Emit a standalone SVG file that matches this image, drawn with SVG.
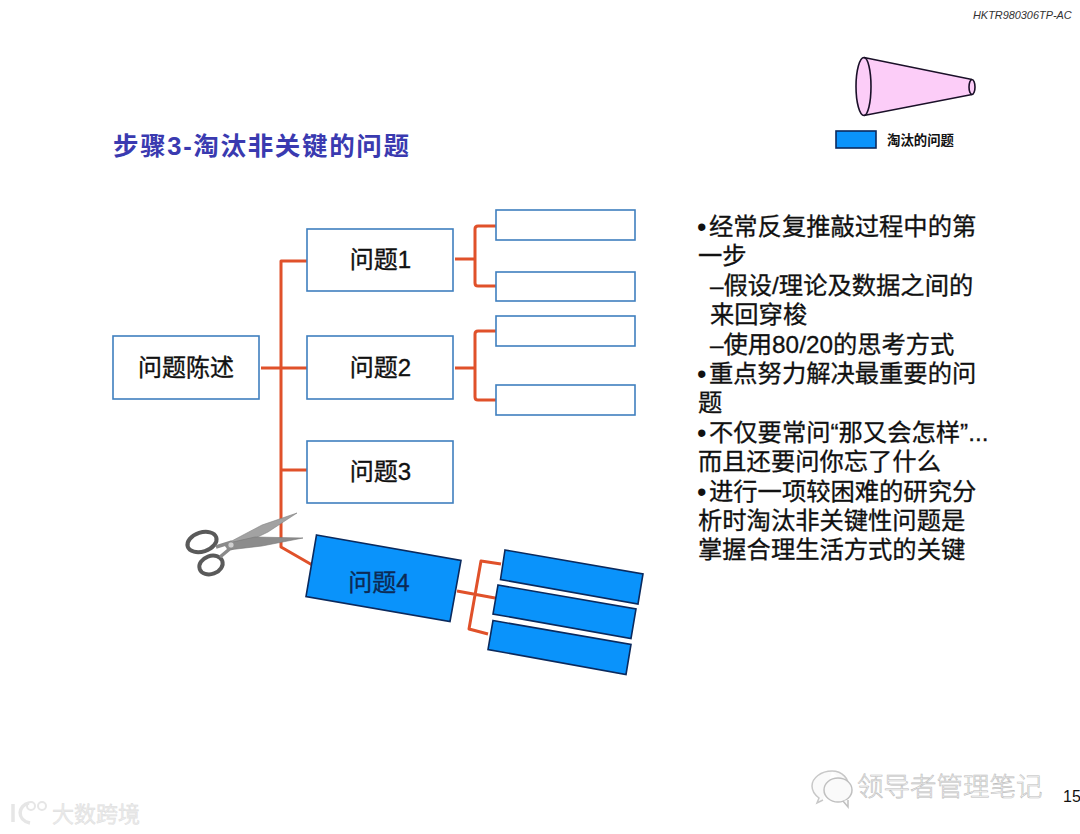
<svg xmlns="http://www.w3.org/2000/svg" width="1080" height="834" viewBox="0 0 1080 834">
<style>
text{font-family:"Liberation Sans","Noto Sans CJK SC",sans-serif;fill:#111}
.box{fill:#fff;stroke:#3f7fbf;stroke-width:1.6}
.cut{fill:#0a93fb;stroke:#0a2a5e;stroke-width:1.6}
.lbl{font-size:24px;text-anchor:middle;stroke:#111;stroke-width:.35}
.con{fill:none;stroke:#e0512a;stroke-width:3;stroke-linejoin:round}
.body{font-size:24.3px;stroke:#111;stroke-width:.3}
.blt{font-size:27px}
.wm{fill:#f6f6f6;stroke:#bdbdbd;stroke-width:.6}
</style>
<rect width="1080" height="834" fill="#fff"/>
<text x="973" y="19" font-size="10.9" font-style="italic" style="fill:#333">HKTR980306TP-AC</text>
<text x="113" y="155" font-size="25.5" font-weight="bold" style="fill:#3a3ab0" textLength="296">步骤3-淘汰非关键的问题</text>
<g id="connectors">
<path class="con" d="M307 261H281V547L314 566"/>
<path class="con" d="M261 368H307M281 470H307"/>
<path class="con" d="M455 259H475M496 226H478Q475 226 475 229V283Q475 286 478 286H496"/>
<path class="con" d="M455 368H475M496 331H478Q475 331 475 334V397Q475 400 478 400H496"/>
<path class="con" d="M457 591L495 598M501 564L481 561L469 629L488 634"/>
</g>
<g id="cone">
<path d="M864 57.500L972 79.500A3 7.500 0 0 1 972 94.500L864 115.500A8 29 0 0 1 864 57.500Z" fill="#fccdf8" stroke="#1a1028" stroke-width="1.600"/>
<path d="M864 57.500A7 29 0 0 1 864 115.500" fill="none" stroke="#1a1028" stroke-width="1.600"/>
<path d="M972 79.500A3 7.500 0 0 0 972 94.500" fill="none" stroke="#1a1028" stroke-width="1.600"/>
</g>
<g id="legend">
<rect class="cut" x="836" y="131" width="40" height="17"/>
<text x="887" y="144.500" font-size="13.400" font-weight="bold">淘汰的问题</text>
</g>
<g id="root"><rect class="box" x="113" y="336" width="146" height="63"/><text class="lbl" x="186" y="376">问题陈述</text></g>
<g id="q1"><rect class="box" x="307" y="229" width="146" height="62"/><text class="lbl" x="380.500" y="268">问题1</text></g>
<g id="q2"><rect class="box" x="307" y="336" width="146" height="63"/><text class="lbl" x="380.500" y="376">问题2</text></g>
<g id="q3"><rect class="box" x="307" y="441" width="146" height="62"/><text class="lbl" x="380.500" y="480">问题3</text></g>
<g id="q1a"><rect class="box" x="496" y="210" width="139" height="30"/></g>
<g id="q1b"><rect class="box" x="496" y="272" width="139" height="29"/></g>
<g id="q2a"><rect class="box" x="496" y="316" width="139" height="30"/></g>
<g id="q2b"><rect class="box" x="496" y="385" width="139" height="30"/></g>
<g id="q4"><polygon class="cut" points="316.500,535 461,560.500 450,621.500 306,596.500"/><text class="lbl" x="379" y="591" style="fill:#0c2a55;stroke:#0c2a55">问题4</text></g>
<g id="q4a"><polygon class="cut" points="505,550 643,574 638,604 500.500,579.500"/></g>
<g id="q4b"><polygon class="cut" points="498,585 636,609 631,638.500 493,614"/></g>
<g id="q4c"><polygon class="cut" points="493,620.500 631,644.500 626,674.500 488,649.500"/></g>
<g id="scissors">
<path d="M297 513L262 525L226 544L231 550L268 532Z" fill="#a2a2a2" stroke="#808080" stroke-width=".6"/>
<path d="M303 538L255 537L224 544L228 550L262 546Z" fill="#8c8c8c" stroke="#777" stroke-width=".6"/>
<ellipse cx="202" cy="542" rx="15" ry="9.500" transform="rotate(-18 202 542)" fill="#fff" stroke="#5a5a5a" stroke-width="4"/>
<ellipse cx="211" cy="565" rx="12" ry="9" transform="rotate(-20 211 565)" fill="#fff" stroke="#5a5a5a" stroke-width="4"/>
<path d="M216 547L232 542M220 557L232 547" fill="none" stroke="#8a8a8a" stroke-width="3.500"/>
<circle cx="231" cy="545" r="3" fill="#cfcfcf" stroke="#888" stroke-width=".6"/>
</g>
<g id="notes">
<text class="blt" x="697" y="236">•</text><text class="body" x="709" y="235">经常反复推敲过程中的第</text>
<text class="body" x="698" y="264">一步</text>
<text class="body" x="710" y="294">–假设/理论及数据之间的</text>
<text class="body" x="710" y="323">来回穿梭</text>
<text class="body" x="710" y="353">–使用80/20的思考方式</text>
<text class="blt" x="697" y="383">•</text><text class="body" x="709" y="382">重点努力解决最重要的问</text>
<text class="body" x="698" y="411">题</text>
<text class="blt" x="697" y="442">•</text><text class="body" x="709" y="441">不仅要常问“那又会怎样”...</text>
<text class="body" x="698" y="470">而且还要问你忘了什么</text>
<text class="blt" x="697" y="501">•</text><text class="body" x="709" y="500">进行一项较困难的研究分</text>
<text class="body" x="698" y="529">析时淘汰非关键性问题是</text>
<text class="body" x="698" y="558">掌握合理生活方式的关键</text>
</g>
<text x="1063" y="802" font-size="16">15</text>
<g id="watermark-right">
<path d="M832 771c-11 0-20 7-20 15 0 5 3 9 7 12l-2 5 6-3M848 788c2-9-6-17-16-17" fill="#fafafa" stroke="#c8c8c8" stroke-width="1.500"/>
<ellipse cx="838" cy="790" rx="14" ry="12" fill="#fafafa" stroke="#c0c0c0" stroke-width="1.500"/>
<path d="M843 801l5 6v-7" fill="#fafafa" stroke="#c0c0c0" stroke-width="1.500"/>
<text x="857" y="796" font-size="26.500" font-weight="300" style="fill:#f8f8f8;stroke:#bdbdbd;stroke-width:.6">领导者管理笔记</text>
</g>
<g id="watermark-left">
<path d="M13 804V822M29 803C18 805 16 820 30 823" fill="none" stroke="#e6e6e6" stroke-width="3.500"/>
<circle cx="31" cy="806" r="4" fill="none" stroke="#e6e6e6" stroke-width="2"/>
<circle cx="42" cy="806" r="4" fill="none" stroke="#e6e6e6" stroke-width="2"/>
<text x="52" y="822" font-size="22" style="fill:#ebebeb;stroke:#dadada;stroke-width:.4">大数跨境</text>
</g>
</svg>
